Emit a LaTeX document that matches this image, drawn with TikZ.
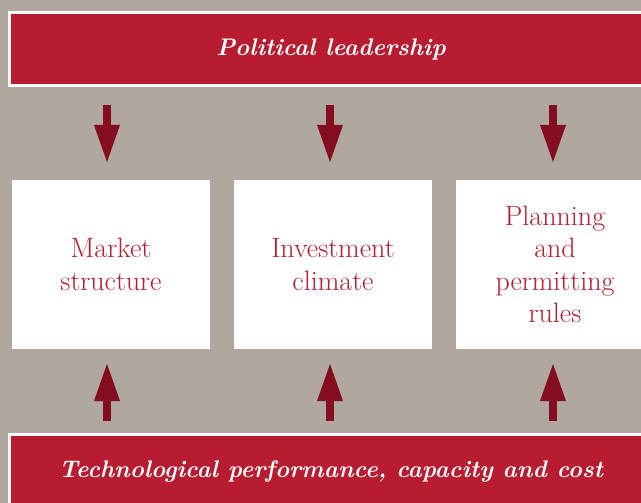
\documentclass[tikz,border=0pt]{standalone}
\usepackage{tikz}
\usetikzlibrary{arrows.meta, positioning}
\definecolor{bgrey}{HTML}{B0A89F}
\definecolor{pred}{HTML}{B81C30}
\definecolor{darkred}{HTML}{850D22}
\tikzstyle{banner} = [rectangle, anchor=west, outer sep=0pt, minimum width=643pt, minimum height=73pt, font=\fontsize{24}{28}\selectfont\bfseries\itshape, text=white, draw=white, line width=3pt, fill=pred]
\tikzstyle{box} = [rectangle, outer sep=0pt, minimum width=198pt, minimum height=169pt, text width=190pt, align=center, font=\fontsize{28}{32.5}\selectfont, text=pred, fill=white]
\tikzstyle{arrow} = [line width=8pt, draw=darkred, -{Triangle[length=37pt, width=26pt, line width=0pt]}]

\begin{document}
\begin{tikzpicture}[node distance=222pt]
  \fill [bgrey] (0,0) rectangle (641pt,-503pt);
  \useasboundingbox (0,0) rectangle (641pt,-503pt);
  \clip (0,0) rectangle (641pt,-503pt);
  \node (POL) [banner] at (9.5pt,-49pt) {Political leadership};
  \node (MARK) [box] at (111pt,-264.5pt) {Market\\structure};
  \node (INVE) [box, right of=MARK] {Investment\\climate};
  \node (PLAN) [box, right of=INVE] {Planning\\and\\permitting\\rules};
  \node (TECH) [banner] at (9.5pt,-471pt) {Technological performance, capacity and cost};

  \draw [arrow, shorten <=19.5pt, shorten >=18pt] ([xshift=-4pt]MARK.north |- POL.south) -- ([xshift=-4pt]MARK.north);
  \draw [arrow, shorten <=19.5pt, shorten >=18pt] ([xshift=-3pt]INVE.north |- POL.south) -- ([xshift=-3pt]INVE.north);
  \draw [arrow, shorten <=19.5pt, shorten >=18pt] ([xshift=-2pt]PLAN.north |- POL.south) -- ([xshift=-2pt]PLAN.north);
  \draw [arrow, shorten <=13.5pt, shorten >=15pt] ([xshift=-4pt]MARK.south |- TECH.north) -- ([xshift=-4pt]MARK.south);
  \draw [arrow, shorten <=13.5pt, shorten >=15pt] ([xshift=-3pt]INVE.south |- TECH.north) -- ([xshift=-3pt]INVE.south);
  \draw [arrow, shorten <=13.5pt, shorten >=15pt] ([xshift=-2pt]PLAN.south |- TECH.north) -- ([xshift=-2pt]PLAN.south);
\end{tikzpicture}
\end{document}
